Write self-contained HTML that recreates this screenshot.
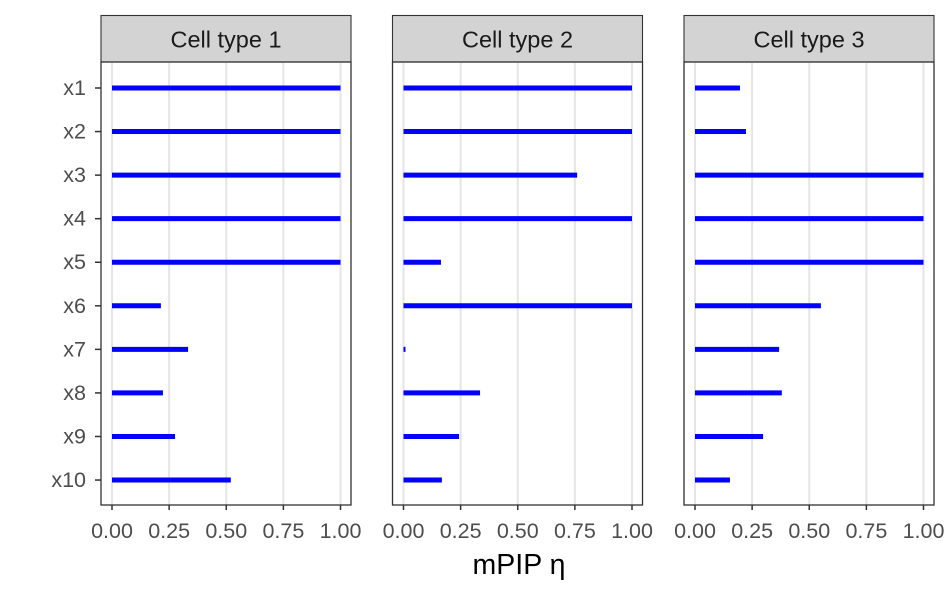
<!DOCTYPE html>
<html><head><meta charset="utf-8"><style>body{margin:0;background:#fff}</style></head><body>
<svg width="950" height="600" xmlns="http://www.w3.org/2000/svg" font-family="Liberation Sans, sans-serif">
<g id="root"></g>
</svg>
<script>
const svg=document.getElementById('root');
const data=[[1,1,1,1,1,0.214,0.333,0.223,0.276,0.52],[1,1,0.76,1,0.164,1,0.007,0.335,0.243,0.168],[0.197,0.223,1,1,1,0.551,0.368,0.38,0.298,0.153]];
const lefts=[101,392.5,684];let h='';
lefts.forEach((L,p)=>{const x0=L+11,sc=228.5;
h+=`<rect x="${L}" y="15.5" width="250" height="46.5" fill="#d3d3d3" stroke="#333" stroke-width="1.1"/>`;
h+=`<text x="${L+125}" y="47.5" font-size="23.5" text-anchor="middle" fill="#1a1a1a">Cell type ${p+1}</text>`;
for(let k=0;k<5;k++){const x=x0+k*0.25*sc;h+=`<line x1="${x}" x2="${x}" y1="62" y2="505" stroke="#e5e5e5" stroke-width="2"/>`;
h+=`<line x1="${x}" x2="${x}" y1="505" y2="510" stroke="#333" stroke-width="1.5"/>`;
h+=`<text x="${x}" y="538" font-size="21.5" text-anchor="middle" fill="#4d4d4d">${(k*0.25).toFixed(2)}</text>`;}
data[p].forEach((v,i)=>{const y=88+i*43.56;h+=`<line x1="${x0}" x2="${x0+Math.max(v*sc,2)}" y1="${y}" y2="${y}" stroke="#0000ff" stroke-width="5"/>`;
if(p==0){h+=`<line x1="95" x2="101" y1="${y}" y2="${y}" stroke="#333" stroke-width="1.5"/>`;h+=`<text x="86" y="${y+7}" font-size="21.5" text-anchor="end" fill="#4d4d4d">x${i+1}</text>`;}});
h+=`<rect x="${L}" y="62" width="250" height="443" fill="none" stroke="#333" stroke-width="1.3"/>`;});
h+=`<text x="519" y="574" font-size="28.5" text-anchor="middle" fill="#000">mPIP η</text>`;
svg.innerHTML=h;
</script>
</body></html>
